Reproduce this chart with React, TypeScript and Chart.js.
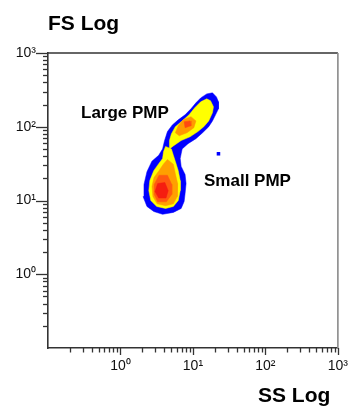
import React, { useEffect, useRef } from "react";
import { Chart, registerables } from "chart.js";

Chart.register(...registerables);

// Axis decades and minor multipliers (both axes are log, 10^-1 .. 10^3)
const decades = [0.1, 1, 10, 100, 1000];
const minorSteps = [2, 3, 4, 5, 6, 7, 8, 9];
const decadeLabels: Record<string, string> = { "1": "10⁰", "10": "10¹", "100": "10²", "1000": "10³" };

const xTitle = "SS Log";
const yTitle = "FS Log";
const annotations = ["Large PMP", "Small PMP"];

// Density contours, as [SS, FS] values
const blueOutline: [number, number][] = [
  [15.5, 279], [18.6, 288], [21.1, 254], [22.5, 218], [22.5, 175], [20.5, 145], [18.6, 120],
  [16.5, 100], [13.6, 83], [11.0, 69], [8.56, 59], [7.1, 50], [6.88, 43], [6.67, 37],
  [6.88, 29], [7.79, 22.5], [8.04, 17.0], [7.79, 12.4], [7.56, 9.7], [6.88, 7.8],
  [5.37, 6.9], [3.81, 6.5], [2.88, 7.1], [2.32, 8.3], [2.05, 11.3], [2.11, 16.5],
  [2.32, 24.6], [2.71, 34], [3.37, 41], [3.81, 50], [4.06, 65], [4.45, 86], [5.2, 106],
  [6.27, 124], [7.79, 145], [9.39, 175], [11.0, 211], [12.8, 246],
];
const yellowUpper: [number, number][] = [
  [15.5, 239], [17.5, 225], [19.2, 186], [18.6, 155], [16.5, 120], [14.1, 100], [11.7, 86],
  [9.11, 73], [6.88, 65], [5.37, 55], [4.74, 50], [4.74, 65], [5.04, 80], [5.71, 100],
  [7.1, 120], [8.83, 145], [10.6, 181], [12.8, 218],
];
const yellowLower: [number, number][] = [
  [4.19, 54], [5.04, 50], [5.37, 41], [5.71, 34], [6.27, 25.4], [6.67, 18.6], [6.67, 13.6],
  [6.27, 10], [5.37, 8.3], [4.19, 7.8], [3.16, 8.3], [2.62, 10], [2.46, 13.6], [2.54, 18.6],
  [2.88, 25.4], [3.37, 31.6], [3.81, 37], [3.93, 46],
];
const orangeLower: [number, number][] = [
  [4.45, 36], [5.37, 31], [5.71, 23.2], [6.15, 17.0], [6.08, 11.3], [5.37, 9.0], [4.19, 8.5],
  [3.2, 9.0], [2.8, 11.3], [2.72, 15.5], [2.9, 20.5], [3.4, 25.4], [3.9, 31],
];
const redOrangeLower: [number, number][] = [
  [3.4, 22.0], [4.45, 22.0], [5.1, 16.5], [5.1, 12.1], [4.3, 9.6], [3.26, 9.6],
  [2.92, 12.1], [2.92, 16.5],
];
const redLower: [number, number][] = [
  [3.26, 17.0], [4.1, 17.5], [4.55, 13.6], [4.25, 10.8], [3.37, 10.8], [3.0, 13.2],
];
const orangeUpper: [number, number][] = [
  [7.32, 124], [9.39, 137], [11.0, 120], [10.3, 97], [8.29, 83], [6.47, 75.5], [5.71, 83], [6.27, 103],
];
const redUpper: [number, number][] = [
  [7.56, 117], [9.11, 120], [9.39, 103], [7.79, 97],
];
const blueSpecks: [number, number][] = [[22.5, 43]];

const FONT = '"Liberation Sans", Arial, Helvetica, sans-serif';
const TICK_FONT = '"Liberation Sans Narrow", "Arial Narrow", "Liberation Sans", Arial, sans-serif';

function buildTicks(): number[] {
  const out: number[] = [];
  decades.forEach((d) => {
    out.push(d);
    if (d < 1000) minorSteps.forEach((m) => out.push(+(d * m).toPrecision(3)));
  });
  return out;
}

const tickPlugin = {
  id: "customTicks",
  afterDraw(chart: any) {
    const { ctx, chartArea } = chart;
    const xs = chart.scales.x;
    const ys = chart.scales.y;
    ctx.save();
    ctx.strokeStyle = "#333";
    ctx.lineWidth = 1.3;
    buildTicks().forEach((v) => {
      if (v <= 0.1) return;
      const major = Math.abs(Math.log10(v) - Math.round(Math.log10(v))) < 1e-6;
      const px = Math.round(xs.getPixelForValue(v)) + 0.5;
      ctx.beginPath();
      ctx.moveTo(px, chartArea.bottom);
      ctx.lineTo(px, chartArea.bottom + (major ? 7 : 4.5));
      ctx.stroke();
      const py = Math.round(ys.getPixelForValue(v)) + 0.5;
      ctx.beginPath();
      ctx.moveTo(chartArea.left, py);
      ctx.lineTo(chartArea.left - (major ? 12 : 5), py);
      ctx.stroke();
    });
    // frame: top and right edges
    ctx.lineWidth = 1.6;
    ctx.strokeStyle = "#333";
    ctx.beginPath();
    ctx.moveTo(chartArea.left, chartArea.top);
    ctx.lineTo(chartArea.right, chartArea.top);
    ctx.stroke();
    ctx.strokeStyle = "#8a8a8a";
    ctx.beginPath();
    ctx.moveTo(chartArea.right, chartArea.top);
    ctx.lineTo(chartArea.right, chartArea.bottom);
    ctx.stroke();
    // titles and annotations
    ctx.fillStyle = "#000";
    ctx.textBaseline = "alphabetic";
    ctx.textAlign = "left";
    ctx.font = `bold 21px ${FONT}`;
    ctx.fillText(yTitle, 48, 30);
    ctx.fillText(xTitle, 258, 402);
    ctx.font = `bold 17px ${FONT}`;
    ctx.fillText(annotations[0], 81, 118);
    ctx.fillText(annotations[1], 204, 186);
    ctx.restore();
  },
};

function poly(points: [number, number][], color: string, order: number) {
  const data = points.map(([x, y]) => ({ x, y }));
  data.push({ x: points[0][0], y: points[0][1] });
  return {
    data,
    backgroundColor: color,
    borderColor: color,
    borderWidth: 0.5,
    pointRadius: 0,
    fill: "shape",
    tension: 0,
    order,
  };
}

export default function App() {
  const ref = useRef<HTMLCanvasElement | null>(null);

  useEffect(() => {
    if (!ref.current) return;
    const axisCommon = {
      type: "logarithmic" as const,
      min: 0.1,
      max: 1000,
      grid: { display: false, drawTicks: false },
      border: { display: true, color: "#333", width: 1.6 },
      afterBuildTicks: (scale: any) => {
        scale.ticks = buildTicks().map((value) => ({ value }));
      },
    };
    const chart = new Chart(ref.current, {
      type: "line",
      data: {
        datasets: [
          poly(blueOutline, "#0000ff", 10),
          poly(yellowUpper, "#ffff00", 9),
          poly(yellowLower, "#ffff00", 9),
          poly(orangeUpper, "#ff9a00", 8),
          poly(orangeLower, "#ffa000", 8),
          poly(redOrangeLower, "#ff5a10", 7),
          poly(redUpper, "#ff4a10", 6),
          poly(redLower, "#f51d10", 6),
          {
            type: "scatter",
            data: blueSpecks.map(([x, y]) => ({ x, y })),
            backgroundColor: "#0000ff",
            borderWidth: 0,
            pointStyle: "rect",
            pointRadius: 2.5,
            order: 1,
          } as any,
        ] as any,
      },
      options: {
        animation: false,
        responsive: true,
        maintainAspectRatio: false,
        layout: { padding: { left: 0, top: 53, right: 15, bottom: 0 } },
        plugins: { legend: { display: false }, tooltip: { enabled: false } },
        scales: {
          x: {
            ...axisCommon,
            position: "bottom",
            afterFit: (scale: any) => {
              scale.height = 62;
            },
            ticks: {
              autoSkip: false,
              maxRotation: 0,
              padding: 10,
              color: "#111",
              font: { family: TICK_FONT, size: 14 },
              callback: (v: any) => decadeLabels[String(v)] ?? "",
            },
          },
          y: {
            ...axisCommon,
            position: "left",
            afterFit: (scale: any) => {
              scale.width = 48;
            },
            ticks: {
              autoSkip: false,
              padding: 12,
              color: "#111",
              font: { family: TICK_FONT, size: 14 },
              callback: (v: any) => decadeLabels[String(v)] ?? "",
            },
          },
        },
      } as any,
      plugins: [tickPlugin],
    });
    return () => chart.destroy();
  }, []);

  return (
    <div style={{ position: "fixed", left: 0, top: 0, width: 358, height: 410, background: "#fff" }}>
      <canvas ref={ref} />
    </div>
  );
}
